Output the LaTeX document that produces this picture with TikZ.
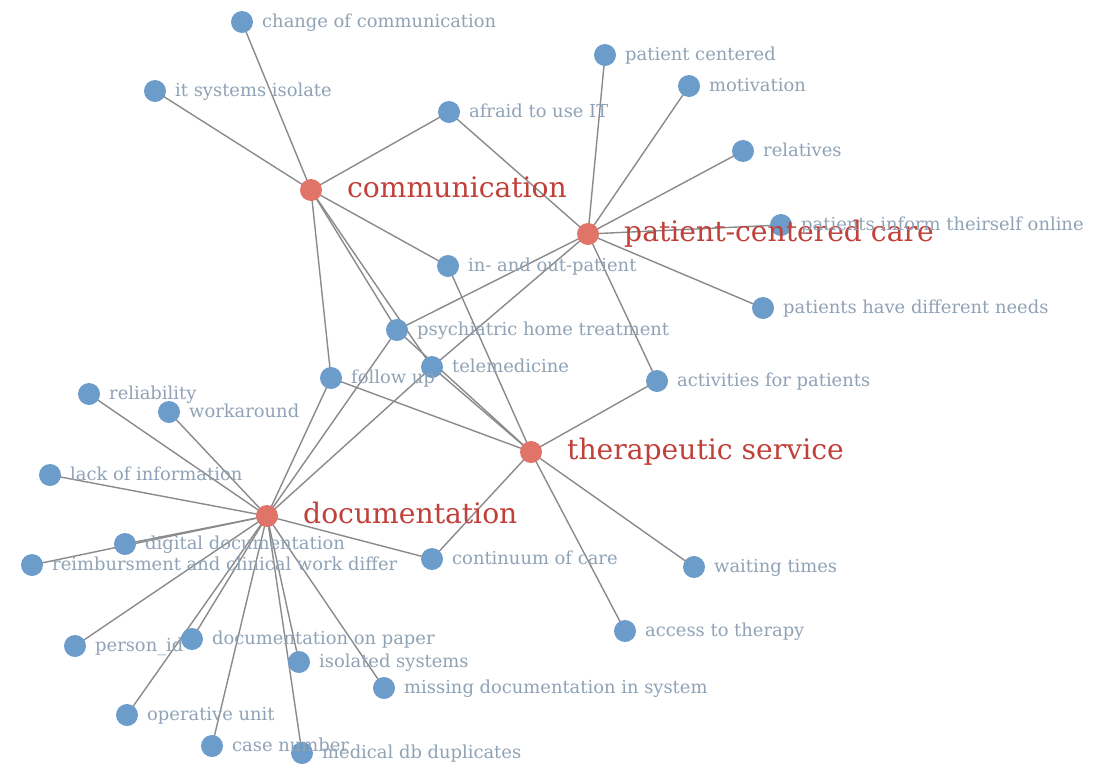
\documentclass[tikz,border=0pt]{standalone}
\usepackage{fontspec}
\setmainfont{DejaVu Serif}
\definecolor{hubfill}{HTML}{E07468}
\definecolor{leaffill}{HTML}{6C9CCA}
\definecolor{hubtext}{HTML}{C0403A}
\definecolor{leaftext}{HTML}{8FA2B6}
\definecolor{edgecol}{HTML}{8A8A8A}
\tikzset{
  hub/.style={circle,fill=hubfill,inner sep=0pt,minimum size=22pt},
  leaf/.style={circle,fill=leaffill,inner sep=0pt,minimum size=22pt},
  leaflabel/.style={anchor=mid west,inner sep=0pt,text=leaftext,font=\fontsize{17.9}{20}\selectfont,xshift=20pt,yshift=-2.5pt},
  hublabel/.style={anchor=mid west,inner sep=0pt,text=hubtext,font=\fontsize{28.2}{32}\selectfont,xshift=36pt,yshift=-5pt},
  edge/.style={draw=edgecol,line width=1.4pt}
}
\begin{document}
\begin{tikzpicture}[x=1pt,y=-1pt]
\useasboundingbox (0,0) rectangle (1095,782);
% hubs
\coordinate (C) at (311,190);
\coordinate (P) at (588,234);
\coordinate (T) at (531,452);
\coordinate (D) at (267,516);
% leaves
\coordinate (chcomm) at (242,22);
\coordinate (itsys) at (155,91);
\coordinate (afraid) at (449,112);
\coordinate (patcent) at (605,55);
\coordinate (motiv) at (689,86);
\coordinate (relat) at (743,151);
\coordinate (inform) at (781,225);
\coordinate (needs) at (763,308);
\coordinate (inout) at (448,266);
\coordinate (psych) at (397,330);
\coordinate (tele) at (432,367);
\coordinate (follow) at (331,378);
\coordinate (activ) at (657,381);
\coordinate (reliab) at (89,394);
\coordinate (workar) at (169,412);
\coordinate (lack) at (50,475);
\coordinate (digdoc) at (125,544);
\coordinate (reimb) at (32,565);
\coordinate (contin) at (432,559);
\coordinate (waiting) at (694,567);
\coordinate (access) at (625,631);
\coordinate (person) at (75,646);
\coordinate (paper) at (192,639);
\coordinate (isolated) at (299,662);
\coordinate (missing) at (384,688);
\coordinate (operative) at (127,715);
\coordinate (casenum) at (212,746);
\coordinate (meddb) at (302,753);
% edges
\foreach \n in {chcomm,itsys,afraid,inout,psych,tele,follow}
  \draw[edge] (C) -- (\n);
\foreach \n in {afraid,patcent,motiv,relat,inform,needs,psych,tele,activ}
  \draw[edge] (P) -- (\n);
\foreach \n in {inout,psych,tele,follow,activ,contin,waiting,access}
  \draw[edge] (T) -- (\n);
\foreach \n in {reliab,workar,lack,digdoc,reimb,person,paper,operative,casenum,meddb,isolated,missing,contin,follow,psych,tele}
  \draw[edge] (D) -- (\n);
% node circles
\foreach \n in {chcomm,itsys,afraid,patcent,motiv,relat,inform,needs,inout,psych,tele,follow,activ,reliab,workar,lack,digdoc,reimb,contin,waiting,access,person,paper,isolated,missing,operative,casenum,meddb}
  \node[leaf] (\n-c) at (\n) {};
\foreach \n in {C,P,T,D}
  \node[hub] (\n-c) at (\n) {};
% labels
\node[hublabel] (C-l) at (C) {communication};
\node[hublabel] (P-l) at (P) {patient-centered care};
\node[hublabel] (T-l) at (T) {therapeutic service};
\node[hublabel] (D-l) at (D) {documentation};
\node[leaflabel] (chcomm-l) at (chcomm) {change of communication};
\node[leaflabel] (itsys-l) at (itsys) {it systems isolate};
\node[leaflabel] (afraid-l) at (afraid) {afraid to use IT};
\node[leaflabel] (patcent-l) at (patcent) {patient centered};
\node[leaflabel] (motiv-l) at (motiv) {motivation};
\node[leaflabel] (relat-l) at (relat) {relatives};
\node[leaflabel] (inform-l) at (inform) {patients inform theirself online};
\node[leaflabel] (needs-l) at (needs) {patients have different needs};
\node[leaflabel] (inout-l) at (inout) {in- and out-patient};
\node[leaflabel] (psych-l) at (psych) {psychiatric home treatment};
\node[leaflabel] (tele-l) at (tele) {telemedicine};
\node[leaflabel] (follow-l) at (follow) {follow up};
\node[leaflabel] (activ-l) at (activ) {activities for patients};
\node[leaflabel] (reliab-l) at (reliab) {reliability};
\node[leaflabel] (workar-l) at (workar) {workaround};
\node[leaflabel] (lack-l) at (lack) {lack of information};
\node[leaflabel] (digdoc-l) at (digdoc) {digital documentation};
\node[leaflabel] (reimb-l) at (reimb) {reimbursment and clinical work differ};
\node[leaflabel] (contin-l) at (contin) {continuum of care};
\node[leaflabel] (waiting-l) at (waiting) {waiting times};
\node[leaflabel] (access-l) at (access) {access to therapy};
\node[leaflabel] (person-l) at (person) {person\_id};
\node[leaflabel] (paper-l) at (paper) {documentation on paper};
\node[leaflabel] (isolated-l) at (isolated) {isolated systems};
\node[leaflabel] (missing-l) at (missing) {missing documentation in system};
\node[leaflabel] (operative-l) at (operative) {operative unit};
\node[leaflabel] (casenum-l) at (casenum) {case number};
\node[leaflabel] (meddb-l) at (meddb) {medical db duplicates};
\end{tikzpicture}
\end{document}
